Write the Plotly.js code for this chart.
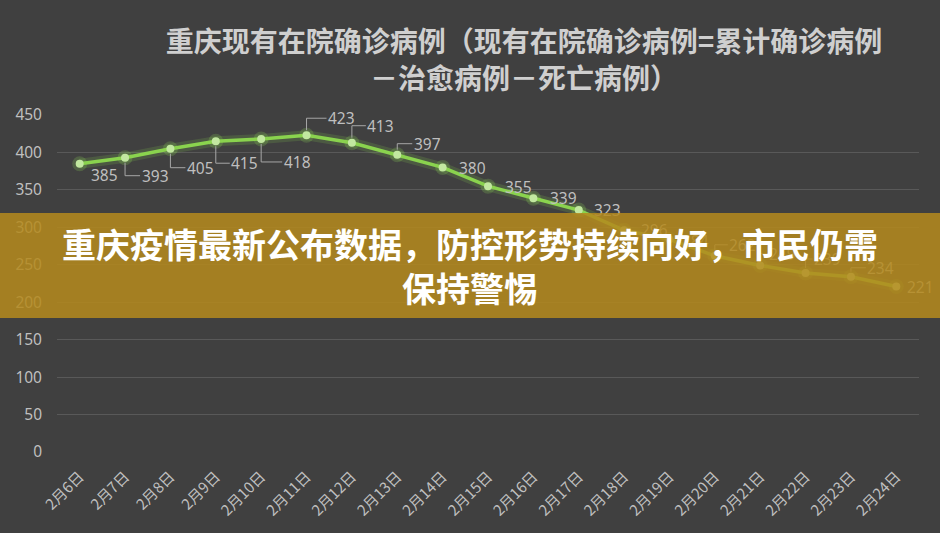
<!DOCTYPE html>
<html>
<head>
<meta charset="utf-8">
<script src="https://cdn.plot.ly/plotly-3.0.1.min.js"></script>
<style>html,body{margin:0;padding:0;background:#404040;}#chart{width:940px;height:533px;}</style>
</head>
<body>
<div id="chart"></div>
<script>
// ---- data ----
const categories = ['2月6日','2月7日','2月8日','2月9日','2月10日','2月11日','2月12日','2月13日','2月14日','2月15日','2月16日','2月17日','2月18日','2月19日','2月20日','2月21日','2月22日','2月23日','2月24日'];
const values = [385,393,405,415,418,423,413,397,380,355,339,323,296,284,262,249,239,234,221];
const yTicks = [0,50,100,150,200,250,300,350,400,450];
const titleLine1 = '重庆现有在院确诊病例（现有在院确诊病例=累计确诊病例';
const titleLine2 = '－治愈病例－死亡病例）';
const bannerText = '重庆疫情最新公布数据，防控形势持续向好，市民仍需<br>保持警惕';

// ---- label placement (style only: pixel offsets, leader flags) ----
const labelDx = [25,30,30,29,36,35,29,30,30,30,30,29,30,26,28,22,22,30,24];
const labelDy = [11,18,19,22,23,-17,-17,-11,1,1,0,0,0,2,-11,-12,-14,-9,0];
const leader  = [0,1,1,1,1,1,1,1,0,0,0,0,0,0,1,1,1,1,0];

const labelColor = '#bfbfbf';
const annotations = [];
const shapes = [];
values.forEach((v, i) => {
  annotations.push({
    x: i, y: v, xref: 'x', yref: 'y', text: String(v), showarrow: false,
    xshift: labelDx[i], yshift: -labelDy[i], xanchor: 'center', yanchor: 'middle',
    font: {size: 15.5, color: labelColor, family: 'Noto Sans, sans-serif'}
  });
  if (leader[i]) {
    const dy = labelDy[i];
    const y0 = dy > 0 ? -5 : 5;
    shapes.push({
      type: 'path', xref: 'x', yref: 'y', xsizemode: 'pixel', ysizemode: 'pixel',
      xanchor: i, yanchor: v, layer: 'above',
      path: `M0,${y0} L0,${-dy} L${labelDx[i] - 15},${-dy}`,
      line: {color: '#a6a6a6', width: 1}
    });
  }
});

// banner overlay (drawn last, above labels)
annotations.push({
  xref: 'paper', yref: 'paper', x: 0.4791, y: 0.5526, xanchor: 'center', yanchor: 'middle',
  text: bannerText, showarrow: false, width: 944, height: 105, borderpad: 0, borderwidth: 0,
  bgcolor: 'rgba(180,137,29,0.86)', align: 'center',
  font: {size: 34, color: '#ffffff', family: 'Noto Sans CJK SC', weight: 'bold'}
});

const glow = {
  type: 'scatter', mode: 'lines+markers', x: categories, y: values, hoverinfo: 'skip',
  line: {color: 'rgba(140,225,80,0.16)', width: 10},
  marker: {size: 15, color: 'rgba(150,230,90,0.2)'},
  showlegend: false
};
const main = {
  type: 'scatter', mode: 'lines+markers', x: categories, y: values,
  line: {color: '#8ad34e', width: 3.5},
  marker: {size: 8, color: '#c2e8a0'},
  showlegend: false
};

const layout = {
  width: 940, height: 533,
  paper_bgcolor: '#404040', plot_bgcolor: '#404040',
  margin: {l: 57, r: 21, t: 114.5, b: 81},
  font: {family: 'Noto Sans CJK SC, sans-serif', color: labelColor},
  title: {
    text: titleLine1 + '<br>' + titleLine2,
    x: 524/940, xanchor: 'center', xref: 'container',
    y: 0.902, yanchor: 'top', yref: 'container',
    font: {size: 28, color: '#cfcfcf', family: 'Noto Sans CJK SC', weight: 'bold'}
  },
  xaxis: {
    type: 'category', range: [-0.5, 18.5], tickangle: -45, showgrid: false, zeroline: false,
    showline: false, ticks: '', ticklabelstandoff: 12,
    tickfont: {size: 15, color: labelColor, family: 'Noto Sans CJK SC'}
  },
  yaxis: {
    range: [0, 450], tickvals: yTicks, gridcolor: '#595959', gridwidth: 1.2, zeroline: false,
    showline: false, ticks: '', ticklabelstandoff: 14,
    tickfont: {size: 15.5, color: labelColor, family: 'Noto Sans, sans-serif'}
  },
  shapes: shapes,
  annotations: annotations
};

Plotly.newPlot('chart', [glow, main], layout, {displayModeBar: false, staticPlot: true});
</script>
</body>
</html>
